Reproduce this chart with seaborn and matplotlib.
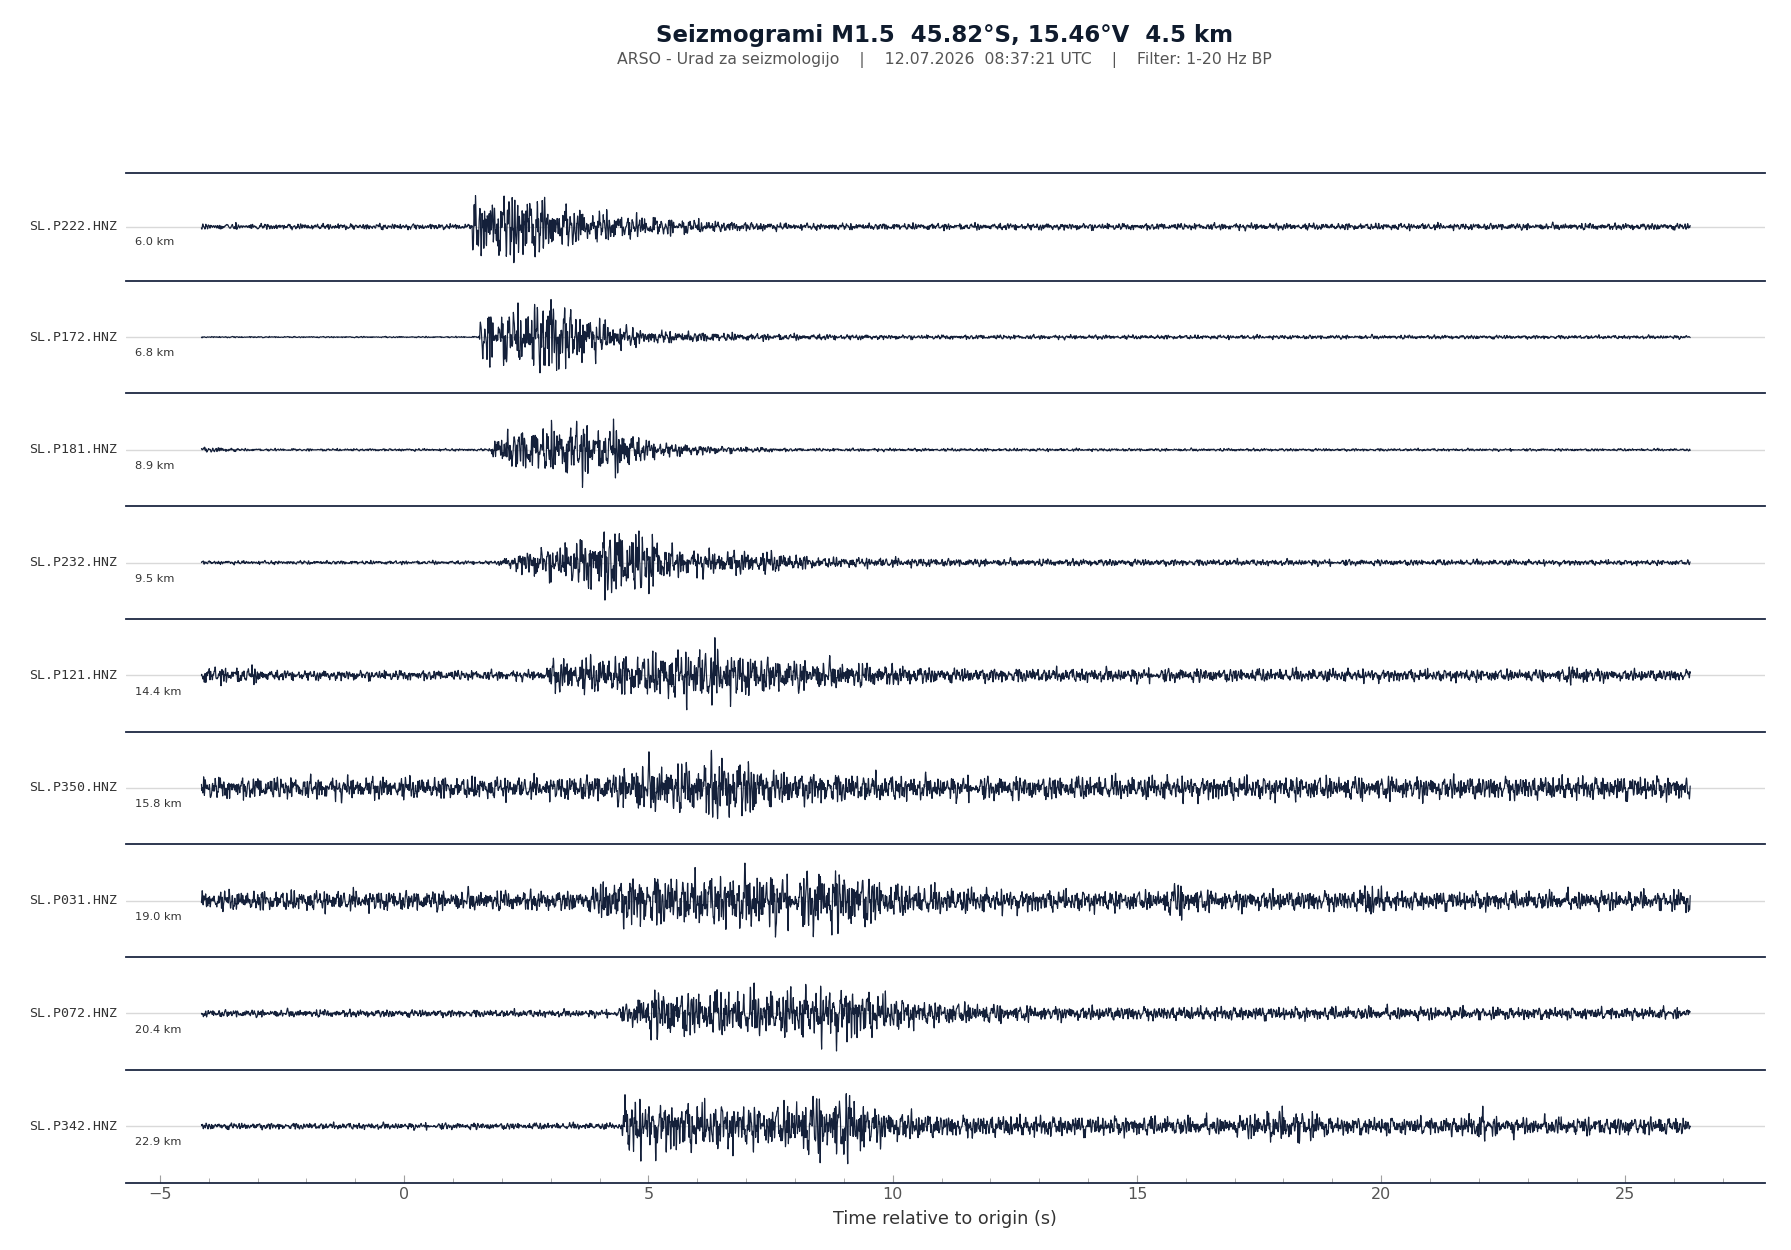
import numpy as np
import pandas as pd
import matplotlib
matplotlib.use("Agg")
import matplotlib.pyplot as plt
from matplotlib.ticker import MultipleLocator
import seaborn as sns

# stations, top to bottom, with epicentral distance
stations = ["SL.P222.HNZ", "SL.P172.HNZ", "SL.P181.HNZ", "SL.P232.HNZ", "SL.P121.HNZ",
            "SL.P350.HNZ", "SL.P031.HNZ", "SL.P072.HNZ", "SL.P342.HNZ"]
distances_km = [6.0, 6.8, 8.9, 9.5, 14.4, 15.8, 19.0, 20.4, 22.9]

t_start, t_end, fs = -4.15, 26.33, 200.0

# amplitude envelopes (time s, relative amplitude)
p222_t = [-4.15, 1.38, 1.40, 2.0, 2.3, 2.8, 3.3, 4.0, 5.0, 6.5, 8.0, 26.33]
p222_a = [0.07, 0.07, 0.75, 0.75, 1.0, 0.7, 0.5, 0.38, 0.25, 0.13, 0.08, 0.08]
p172_t = [-4.15, 1.53, 1.55, 2.5, 3.0, 3.5, 4.3, 5.0, 7.0, 10.0, 26.33]
p172_a = [0.015, 0.015, 0.6, 0.65, 1.0, 0.6, 0.3, 0.15, 0.08, 0.05, 0.04]
p181_t = [-4.15, -3.5, -3.4, 1.78, 1.80, 2.3, 3.2, 3.7, 4.0, 4.5, 4.8, 5.5, 6.5, 8.0, 26.33]
p181_a = [0.08, 0.08, 0.04, 0.04, 0.45, 0.7, 0.85, 1.0, 0.7, 0.9, 0.4, 0.22, 0.12, 0.05, 0.04]
p232_t = [-4.15, 1.9, 2.5, 3.5, 4.2, 5.1, 5.4, 6.0, 7.5, 8.5, 12.0, 26.33]
p232_a = [0.05, 0.05, 0.35, 0.6, 1.0, 0.85, 0.45, 0.35, 0.3, 0.15, 0.1, 0.07]
p121_t = [-4.15, -3.0, -2.7, 2.9, 3.0, 5.0, 6.3, 6.8, 7.5, 9.0, 11.0, 23.5, 24.0, 24.6, 26.33]
p121_a = [0.28, 0.28, 0.17, 0.17, 0.55, 0.75, 1.0, 0.8, 0.6, 0.45, 0.25, 0.2, 0.32, 0.2, 0.2]
p350_t = [-4.15, 3.0, 4.3, 4.7, 6.0, 6.3, 7.1, 7.5, 9.0, 11.0, 26.33]
p350_a = [0.34, 0.34, 0.45, 0.8, 0.75, 1.0, 0.85, 0.55, 0.45, 0.36, 0.36]
p031_t = [-4.15, 3.8, 4.0, 4.8, 6.0, 7.4, 8.0, 8.4, 9.4, 10.0, 12.0, 15.5, 15.8, 16.5,
          19.5, 19.7, 20.2, 25.8, 26.33]
p031_a = [0.3, 0.3, 0.6, 0.8, 0.75, 0.9, 0.65, 1.0, 0.8, 0.5, 0.34, 0.3, 0.55, 0.3,
          0.3, 0.55, 0.28, 0.28, 0.38]
p072_t = [-4.15, 4.2, 4.6, 5.0, 6.0, 7.3, 8.0, 9.0, 9.7, 10.5, 13.0, 26.33]
p072_a = [0.13, 0.13, 0.35, 0.85, 0.8, 0.85, 0.85, 1.0, 0.75, 0.45, 0.25, 0.2]
p342_t = [-4.15, 4.45, 4.5, 4.6, 4.8, 6.5, 7.5, 8.5, 9.3, 9.6, 11.0, 17.0, 17.6, 18.4, 19.0,
          21.5, 22.1, 22.4, 26.33]
p342_a = [0.08, 0.08, 0.6, 1.0, 0.65, 0.6, 0.5, 0.8, 0.8, 0.45, 0.28, 0.22, 0.38, 0.4, 0.22,
          0.22, 0.38, 0.22, 0.22]

env_t = [p222_t, p172_t, p181_t, p232_t, p121_t, p350_t, p031_t, p072_t, p342_t]
env_a = [p222_a, p172_a, p181_a, p232_a, p121_a, p350_a, p031_a, p072_a, p342_a]

TRACE = "#14203a"
SPINE = "#1c2742"

sns.set_theme(style="white")
plt.rcParams["font.family"] = ["DejaVu Sans"]

fig, axes = plt.subplots(len(stations), 1, sharex=True, figsize=(17.91, 12.5), dpi=100,
                         gridspec_kw={"height_ratios": [0.96] + [1] * (len(stations) - 1)})
fig.subplots_adjust(left=0.0702, right=0.9853, top=0.862, bottom=0.054, hspace=0)

t = np.arange(t_start, t_end, 1.0 / fs)
# incommensurate components so the texture never lines up
freqs = [2.62, 3.87, 5.48, 7.07, 8.66, 10.25, 11.83, 13.42, 14.87, 16.58, 18.03, 19.62,
         21.21, 23.45, 26.46, 29.15, 32.40, 35.36, 38.73, 42.43]
nf = len(freqs)

for i, ax in enumerate(axes):
    ts = t + 3.7 * (i + 1)
    wave = sum(np.sin(2 * np.pi * f * ts - np.pi * k * (k - 1) / nf) for k, f in enumerate(freqs))
    env = np.interp(t, env_t[i], env_a[i])
    amp = env * wave
    amp = amp / np.abs(amp).max()
    df = pd.DataFrame({"t": t, "amp": amp})

    ax.axhline(0, color="#d9d9d9", lw=1.0, zorder=0)
    sns.lineplot(data=df, x="t", y="amp", ax=ax, color=TRACE, linewidth=0.85,
                 estimator=None, sort=False)
    ax.set_ylim(-1.5, 1.5)
    ax.set_xlim(-5.7, 27.85)
    ax.set_yticks([])
    ax.set_ylabel("")
    ax.set_xlabel("")
    for s in ["left", "right", "bottom"]:
        ax.spines[s].set_visible(False)
    ax.spines["top"].set_color(SPINE)
    ax.spines["top"].set_linewidth(1.3)

    ax.text(-0.005, 0.5, stations[i], transform=ax.transAxes, ha="right", va="center",
            fontsize=9.5, family="DejaVu Sans Mono", color="#333333")
    ax.text(0.0056, 0.355, f"{distances_km[i]:.1f} km", transform=ax.transAxes,
            ha="left", va="center", fontsize=8.2, color="#333333")
    ax.tick_params(axis="x", which="both", bottom=False, labelbottom=False)

last = axes[-1]
last.spines["bottom"].set_visible(True)
last.spines["bottom"].set_color(SPINE)
last.spines["bottom"].set_linewidth(1.3)
last.xaxis.set_major_locator(MultipleLocator(5))
last.xaxis.set_minor_locator(MultipleLocator(1))
last.tick_params(axis="x", which="both", bottom=True, labelbottom=True, direction="in",
                 color="#a0a0a0")
last.tick_params(axis="x", which="major", length=6, width=0.8, labelsize=11.5,
                 labelcolor="#555555", pad=3)
last.tick_params(axis="x", which="minor", length=3.8, width=0.6)
last.set_xlabel("Time relative to origin (s)", fontsize=12.7, color="#333333", labelpad=6)

fig.text(0.5275, 0.9715, "Seizmogrami M1.5  45.82°S, 15.46°V  4.5 km", ha="center",
         va="center", fontsize=16.5, fontweight="bold", color="#0f1b2d")
fig.text(0.5275, 0.952,
         "ARSO - Urad za seizmologijo    |    12.07.2026  08:37:21 UTC    |    Filter: 1-20 Hz BP",
         ha="center", va="center", fontsize=11.3, color="#555555")

fig.savefig("out.png", dpi=100)
